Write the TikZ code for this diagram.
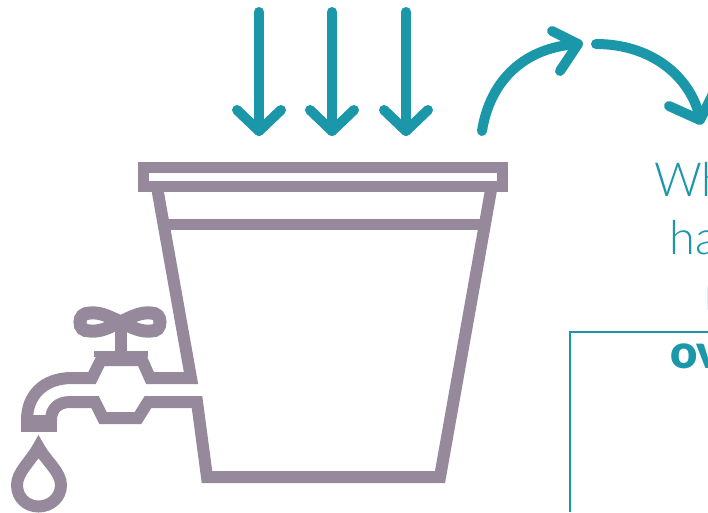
\documentclass[tikz,border=0pt]{standalone}
\usepackage{fontspec}
\setmainfont{Lato Light}
\newfontfamily\blacklato{Lato Black}
\definecolor{bucketgrey}{HTML}{95899B}
\definecolor{rainteal}{HTML}{1A97A8}
\tikzset{
	font=\fontsize{47}{47}\selectfont,
	bucket/.style={draw=bucketgrey, line width=12pt, miter limit=10},
	rain/.style={draw=rainteal, line width=10pt, line cap=round, line join=round},
	caption/.style={text=rainteal, anchor=base west, inner sep=0pt}
}

\begin{document}
\begin{tikzpicture}[x=1pt,y=-1pt]  % pixel coordinates, y down

\useasboundingbox (0,0) rectangle (708,512);
\clip (0,0) rectangle (708,512);

% rim
\draw[bucket, line width=11pt] (143.5,167.5) rectangle (502.5,186.5);

% body and upper pipe
\draw[bucket] (157.5,190) -- (191,378) -- (150,378) -- (142,360) -- (101,360) -- (92,378)
  -- (72,378) .. controls (44,378) and (27,395) .. (27,420);

% lower pipe and body
\draw[bucket] (51,420) .. controls (51,409) and (58,402) .. (70,402) -- (95,402) -- (103,418)
  -- (138,418) -- (148,402) -- (197,402) -- (207,477) -- (440,477) -- (491,190);

% band
\draw[bucket, line width=11pt] (164,224) -- (484,224);

% spout mouth
\fill[bucketgrey] (21,415) rectangle (57,432);

% handle
\fill[bucketgrey] (94,351) rectangle (148,357);
\draw[bucketgrey, line width=12pt] (120.5,318) -- (120.5,352);
\draw[bucket, line width=13pt] (120.5,322) .. controls (108,316) and (100,312) .. (90,313)
  .. controls (83,313) and (80,317) .. (80,322)
  .. controls (80,328) and (83,331) .. (90,331)
  .. controls (100,332) and (108,328) .. (120.5,322)
  .. controls (133,316) and (141,312) .. (151,313)
  .. controls (157,313) and (160,317) .. (160,322)
  .. controls (160,328) and (157,331) .. (151,331)
  .. controls (141,332) and (133,328) .. (120.5,322) -- cycle;

% drop
\draw[bucket] (38.5,447) .. controls (31,461) and (17,472) .. (17,485)
  .. controls (17,498) and (27,506.5) .. (38.5,506.5)
  .. controls (50,506.5) and (61,498) .. (61,485)
  .. controls (61,472) and (46,461) .. (38.5,447) -- cycle;

% rain arrows
\foreach \rainx in {259,332,406}{
  \draw[rain] (\rainx,12) -- (\rainx,131);
  \draw[rain] (\rainx-22,110) -- (\rainx,131) -- (\rainx+22,110);
}

% overflow arrows
\draw[rain] (482,131) .. controls (490,80) and (525,47) .. (578,44);
\draw[rain] (552,31) -- (578,44) -- (560,71);
\draw[rain] (596,44) .. controls (650,44) and (690,75) .. (700,118);
\draw[rain] (669,106) -- (700,120) -- (716,88);

% text box
\draw[rainteal, line width=2.4pt] (570,512) -- (570,332) -- (720,332);

% text
\node[caption] (whline) at (654,196) {Wh};
\node[caption] (haline) at (669,254) {ha};
\node[caption] (rline) at (704,310) {r};
\node[caption, font=\fontsize{47}{47}\selectfont\blacklato] (ovline) at (670,368) {ov};

\end{tikzpicture}
\end{document}
